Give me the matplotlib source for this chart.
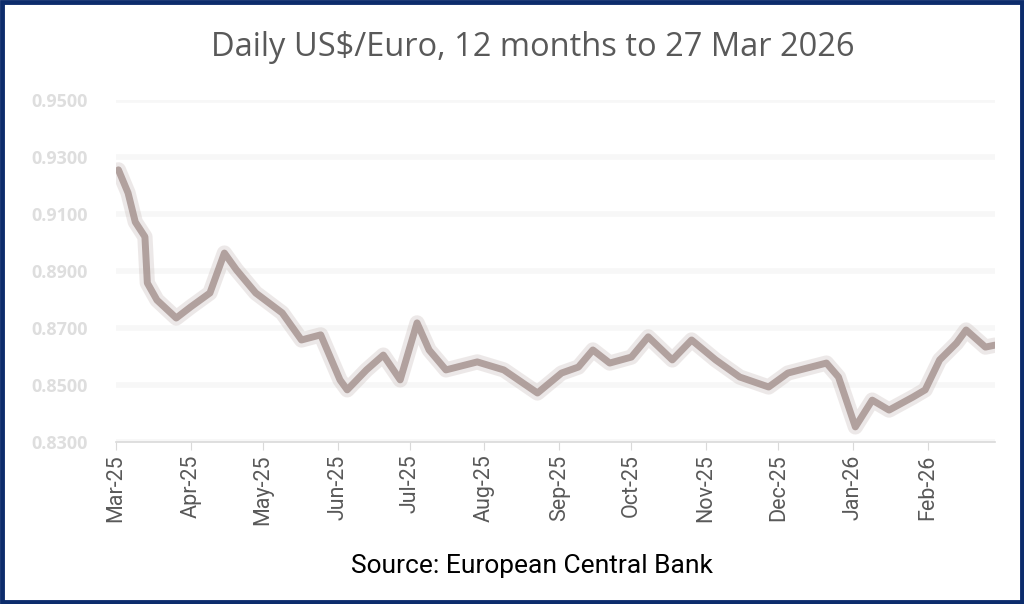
import matplotlib
matplotlib.use('Agg')
import matplotlib.pyplot as plt
import matplotlib.dates as mdates
from matplotlib.patches import Rectangle
import pandas as pd

# values (euros per US dollar)
dates = ['2025-03-28', '2025-04-01', '2025-04-04', '2025-04-08', '2025-04-09',
         '2025-04-13', '2025-04-21', '2025-04-27', '2025-05-05', '2025-05-11',
         '2025-05-16', '2025-05-24', '2025-06-04', '2025-06-12', '2025-06-20',
         '2025-06-28', '2025-07-01', '2025-07-09', '2025-07-16', '2025-07-23',
         '2025-07-30', '2025-08-04', '2025-08-11', '2025-08-24', '2025-09-04',
         '2025-09-18', '2025-09-28', '2025-10-05', '2025-10-11', '2025-10-18',
         '2025-10-27', '2025-11-03', '2025-11-13', '2025-11-21', '2025-12-01',
         '2025-12-11', '2025-12-23', '2025-12-31', '2026-01-05', '2026-01-16',
         '2026-01-21', '2026-01-28', '2026-02-04', '2026-02-11', '2026-02-21',
         '2026-02-26', '2026-03-04', '2026-03-11', '2026-03-15', '2026-03-23',
         '2026-03-27']
rate = [0.9255, 0.9174, 0.9072, 0.9020, 0.8858,
        0.8798, 0.8735, 0.8774, 0.8823, 0.8963,
        0.8904, 0.8823, 0.8753, 0.8658, 0.8676,
        0.8518, 0.8483, 0.8553, 0.8605, 0.8518,
        0.8718, 0.8623, 0.8553, 0.8581, 0.8553,
        0.8472, 0.8542, 0.8563, 0.8623, 0.8577,
        0.8598, 0.8669, 0.8588, 0.8658, 0.8588,
        0.8528, 0.8493, 0.8542, 0.8553, 0.8577,
        0.8528, 0.8353, 0.8447, 0.8412, 0.8458,
        0.8483, 0.8588, 0.8647, 0.8693, 0.8633,
        0.8640]
y_ticks = [0.83, 0.85, 0.87, 0.89, 0.91, 0.93, 0.95]
month_ticks = pd.date_range('2025-03-01', '2026-02-01', freq='MS') + pd.Timedelta(days=26)

df = pd.DataFrame({'date': pd.to_datetime(dates), 'rate': rate})

fig = plt.figure(figsize=(10.24, 6.04), dpi=100)
fig.patch.set_facecolor('white')
ax = fig.add_axes([0.1133, 0.2682, 0.8584, 0.5662])

# blurred-looking line: soft halo plus core
ax.plot(df['date'], df['rate'], color='#c3b6b3', lw=11, alpha=0.3, solid_capstyle='round')
ax.plot(df['date'], df['rate'], color='#a38f8c', lw=5, alpha=0.8, solid_capstyle='round')

ax.set_xlim(pd.Timestamp('2025-03-27'), pd.Timestamp('2026-03-27'))
ax.set_ylim(y_ticks[0], y_ticks[-1])
ax.set_yticks(y_ticks)
ax.set_yticklabels([f'{v:.4f}' for v in y_ticks], color='#dedede', fontsize=13,
                   family='Open Sans', fontweight='bold')
ax.grid(axis='y', color='#f7f7f7', lw=4)
ax.set_axisbelow(True)

ax.set_xticks(month_ticks)
ax.xaxis.set_major_formatter(mdates.DateFormatter('%b-%y'))
for lab in ax.get_xticklabels():
    lab.set_rotation(90)
    lab.set_fontsize(15.5)
    lab.set_color('#595959')
    lab.set_family('Roboto')
ax.tick_params(axis='x', length=6, color='#d9d9d9', pad=3)
ax.tick_params(axis='y', length=0, pad=20)

for side in ['top', 'right', 'left']:
    ax.spines[side].set_visible(False)
ax.spines['bottom'].set_color('#d9d9d9')
ax.spines['bottom'].set_linewidth(1.2)

fig.text(0.52, 0.922, 'Daily US$/Euro, 12 months to 27 Mar 2026', ha='center', va='center',
         fontsize=23.5, color='#595959', family='Open Sans')
fig.text(0.519, 0.063, 'Source: European Central Bank', ha='center', va='center',
         fontsize=19, color='black', family='Roboto')

fig.patches.append(Rectangle((0.002, 0.003), 0.996, 0.994, transform=fig.transFigure,
                             fill=False, edgecolor='#0c2c6c', lw=3.5))

fig.savefig('out.png', dpi=100)
